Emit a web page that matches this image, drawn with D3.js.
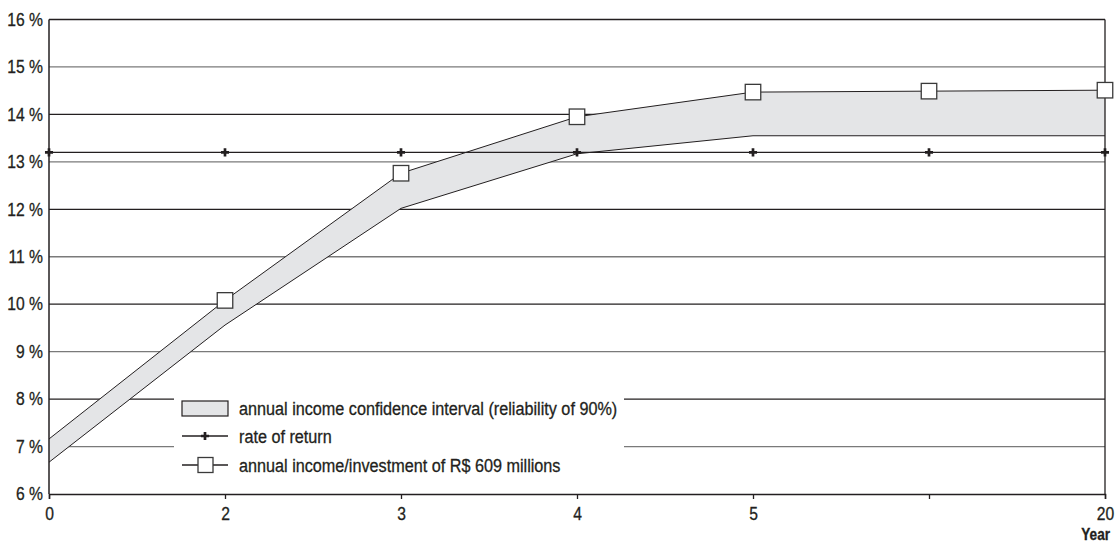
<!DOCTYPE html>
<html><head><meta charset="utf-8">
<script src="https://cdn.jsdelivr.net/npm/d3@7"></script>
<style>
html,body{margin:0;padding:0;background:#fff;}
text{font-family:"Liberation Sans","Arial",sans-serif;fill:#231f20;stroke:#231f20;stroke-width:0.3px;}
</style></head>
<body>
<svg id="chart" width="1116" height="542"></svg>
<script>
const categories = ["0", "2", "3", "4", "5", "", "20"];
const incomeUpper = [7.16, 10.08, 12.76, 13.95, 14.47, 14.49, 14.51];
const incomeLower = [6.67, 9.56, 12.02, 13.17, 13.55, 13.55, 13.55];
const rateOfReturn = [13.2, 13.2, 13.2, 13.2, 13.2, 13.2, 13.2];
const markerIndices = [1, 2, 3, 4, 5, 6];
const yTicks = [6, 7, 8, 9, 10, 11, 12, 13, 14, 15, 16];
const legendLabels = [
  "annual income confidence interval (reliability of 90%)",
  "rate of return",
  "annual income/investment of R$ 609 millions"
];
const xTitle = "Year";

const svg = d3.select("#chart");
const L = 49, R = 1105, T = 19.5, B = 494;
const x = d3.scalePoint().domain(categories).range([L, R]);
const y = d3.scaleLinear().domain([6, 16]).range([B, T]);

function condense(sel, f) {
  sel.each(function() {
    const w = this.getComputedTextLength();
    if (w > 0) d3.select(this).attr("textLength", w * f).attr("lengthAdjust", "spacingAndGlyphs");
  });
}

// gridlines
svg.append("g").selectAll("line").data(yTicks.filter(d => d > 6)).join("line")
  .attr("x1", L).attr("x2", R)
  .attr("y1", d => y(d)).attr("y2", d => y(d))
  .attr("stroke", d => d % 2 === 0 ? "#231f20" : "#7a7a7a")
  .attr("stroke-width", 1.3);

// band
const pts = categories.map((c, i) => ({c, u: incomeUpper[i], l: incomeLower[i]}));
svg.append("path").datum(pts)
  .attr("d", d3.area().x(d => x(d.c)).y0(d => y(d.l)).y1(d => y(d.u)))
  .attr("fill", "#e4e5e7");
svg.append("path").datum(pts)
  .attr("d", d3.line().x(d => x(d.c)).y(d => y(d.l)))
  .attr("fill", "none").attr("stroke", "#231f20").attr("stroke-width", 1);

// rate of return
const rr = categories.map((c, i) => ({c, v: rateOfReturn[i]}));
svg.append("path").datum(rr)
  .attr("d", d3.line().x(d => x(d.c)).y(d => y(d.v)))
  .attr("fill", "none").attr("stroke", "#231f20").attr("stroke-width", 1.3);
const plus = d3.symbol().type(d3.symbolCross).size(36);
svg.append("g").selectAll("path").data(rr).join("path")
  .attr("d", plus)
  .attr("transform", d => `translate(${x(d.c)},${y(d.v)})`)
  .attr("fill", "#231f20");

// income line
svg.append("path").datum(pts)
  .attr("d", d3.line().x(d => x(d.c)).y(d => y(d.u)))
  .attr("fill", "none").attr("stroke", "#231f20").attr("stroke-width", 1);

// axes frame
svg.append("line").attr("x1", L).attr("x2", L).attr("y1", T).attr("y2", B).attr("stroke", "#231f20").attr("stroke-width", 1.5);
svg.append("line").attr("x1", R).attr("x2", R).attr("y1", T).attr("y2", B).attr("stroke", "#231f20").attr("stroke-width", 1.3);

// markers
const sq = 15.5;
svg.append("g").selectAll("rect").data(markerIndices).join("rect")
  .attr("x", i => x(categories[i]) - sq / 2)
  .attr("y", i => y(incomeUpper[i]) - sq / 2)
  .attr("width", sq).attr("height", sq)
  .attr("fill", "#fff").attr("stroke", "#3a3a3a").attr("stroke-width", 1.3);

// y axis labels
const yAxis = d3.axisLeft(y).tickValues(yTicks).tickSize(0).tickPadding(6).tickFormat(d => d + " %");
const gy = svg.append("g").attr("transform", `translate(${L},0)`).call(yAxis);
gy.select(".domain").remove();
gy.selectAll("text").attr("font-size", 18).attr("font-family", null).attr("fill", "#231f20");
condense(gy.selectAll("text"), 0.87);

// x axis
const xAxis = d3.axisBottom(x).tickSize(5).tickPadding(8);
const gx = svg.append("g").attr("transform", `translate(0,${B})`).call(xAxis);
gx.select(".domain").attr("stroke", "#231f20").attr("stroke-width", 1.5);
gx.selectAll(".tick line").attr("stroke", "#231f20").attr("stroke-width", 1.3);
gx.selectAll("text").attr("font-size", 18).attr("font-family", null).attr("fill", "#231f20");
condense(gx.selectAll("text"), 0.87);

const yt = svg.append("text").attr("x", 1110).attr("y", 540).attr("text-anchor", "end")
  .attr("font-size", 16).attr("font-weight", "bold").text(xTitle);
condense(yt, 0.85);

// legend
const lg = svg.append("g");
lg.append("rect").attr("x", 174).attr("y", 386).attr("width", 450).attr("height", 92).attr("fill", "#fff");
const ly = [408, 436, 465];
lg.append("rect").attr("x", 182).attr("y", 401).attr("width", 46).attr("height", 15)
  .attr("fill", "#e4e5e7").attr("stroke", "#231f20").attr("stroke-width", 1.2);
lg.append("line").attr("x1", 182).attr("x2", 228).attr("y1", ly[1]).attr("y2", ly[1]).attr("stroke", "#231f20").attr("stroke-width", 1.3);
lg.append("path").attr("d", plus).attr("transform", `translate(205,${ly[1]})`).attr("fill", "#231f20");
lg.append("line").attr("x1", 182).attr("x2", 228).attr("y1", ly[2]).attr("y2", ly[2]).attr("stroke", "#231f20").attr("stroke-width", 1.3);
lg.append("rect").attr("x", 198).attr("y", ly[2] - 7.5).attr("width", 15).attr("height", 15)
  .attr("fill", "#fff").attr("stroke", "#3a3a3a").attr("stroke-width", 1.3);
const lt = lg.selectAll("text.lt").data(legendLabels).join("text").attr("class", "lt")
  .attr("x", 239).attr("y", (d, i) => ly[i] + 6.5).attr("font-size", 18).text(d => d);
condense(lt, 0.9);
</script>
</body></html>
